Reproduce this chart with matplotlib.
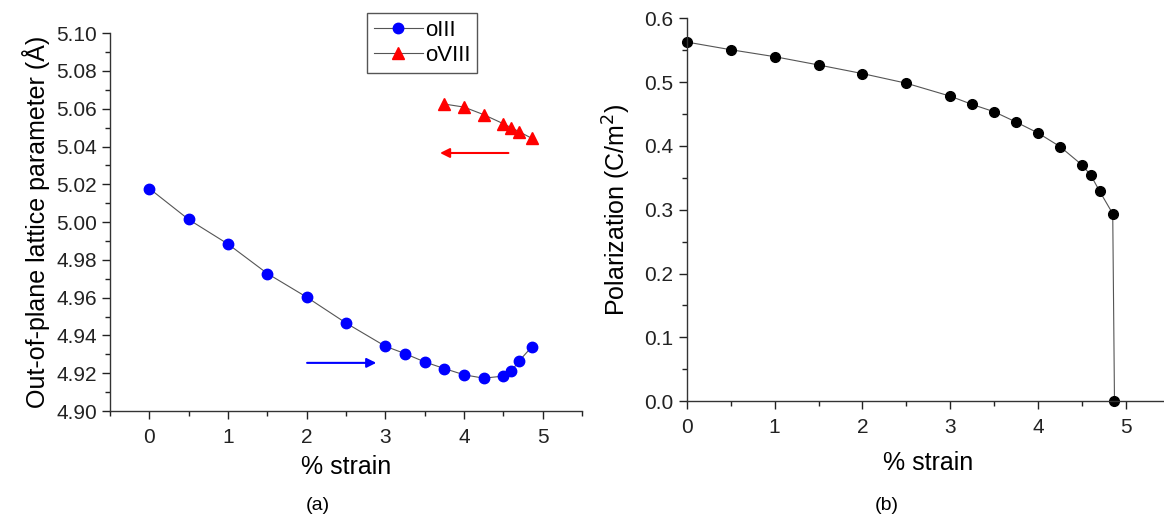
import matplotlib
matplotlib.use("Agg")
import matplotlib.pyplot as plt
from matplotlib.ticker import MultipleLocator

plt.rcParams["font.family"] = ["Liberation Sans", "DejaVu Sans"]

# (a) out-of-plane lattice parameter vs strain
strain_o3 = [0.0, 0.5, 1.0, 1.5, 2.0, 2.5, 3.0, 3.25, 3.5, 3.75, 4.0, 4.25, 4.5, 4.6, 4.7, 4.86]
lat_o3 = [5.0178, 5.0014, 4.9884, 4.9728, 4.9603, 4.9466, 4.9343, 4.9304, 4.9260,
          4.9225, 4.9192, 4.9174, 4.9185, 4.9211, 4.9265, 4.9339]
strain_o8 = [3.75, 4.0, 4.25, 4.5, 4.6, 4.7, 4.86]
lat_o8 = [5.0625, 5.0609, 5.0569, 5.0521, 5.0500, 5.0479, 5.0444]

# arrows: (x_start, x_end, y)
arrow_blue = (1.97, 2.92, 4.9255)
arrow_red = (4.60, 3.66, 5.0366)

# (b) polarization vs strain
strain_p = [0.0, 0.5, 1.0, 1.5, 2.0, 2.5, 3.0, 3.25, 3.5, 3.75, 4.0, 4.25, 4.5, 4.6, 4.7, 4.85, 4.87]
polar = [0.5626, 0.5506, 0.5397, 0.5267, 0.5132, 0.4981, 0.4778, 0.4648, 0.4534,
         0.4372, 0.4201, 0.3988, 0.3701, 0.3540, 0.3291, 0.2937, 0.0]

fig = plt.figure(figsize=(11.64, 5.19), dpi=100)
ax1 = fig.add_axes([0.0945, 0.208, 0.4055, 0.728])
ax2 = fig.add_axes([0.590, 0.227, 0.415, 0.738])

line_kw = dict(color="#555555", linewidth=0.8)

ax1.plot(strain_o3, lat_o3, marker="o", markersize=7.5, markerfacecolor="#0000ff",
         markeredgecolor="#0000ff", label="oIII", **line_kw)
ax1.plot(strain_o8, lat_o8, marker="^", markersize=8, markerfacecolor="#ff0000",
         markeredgecolor="#ff0000", label="oVIII", **line_kw)

ax1.annotate("", xy=(arrow_blue[1], arrow_blue[2]), xytext=(arrow_blue[0], arrow_blue[2]),
             arrowprops=dict(arrowstyle="-|>", color="#0000ff", lw=1.5, mutation_scale=14))
ax1.annotate("", xy=(arrow_red[1], arrow_red[2]), xytext=(arrow_red[0], arrow_red[2]),
             arrowprops=dict(arrowstyle="-|>", color="#ff0000", lw=1.5, mutation_scale=14))

ax1.set_xlim(-0.5, 5.5)
ax1.set_ylim(4.90, 5.10)
ax1.xaxis.set_major_locator(MultipleLocator(1))
ax1.xaxis.set_minor_locator(MultipleLocator(0.5))
ax1.yaxis.set_major_locator(MultipleLocator(0.02))
ax1.yaxis.set_minor_locator(MultipleLocator(0.01))
ax1.yaxis.set_major_formatter(plt.FormatStrFormatter("%.2f"))
ax1.set_xlabel("% strain", fontsize=18, labelpad=6)
ax1.set_ylabel("Out-of-plane lattice parameter (Å)", fontsize=18, labelpad=4)

leg = ax1.legend(loc="upper left", bbox_to_anchor=(367 / 1164, 1 - 13 / 519),
                 bbox_transform=fig.transFigure, fontsize=16, numpoints=1,
                 fancybox=False, framealpha=1, edgecolor="#555555", borderaxespad=0,
                 handlelength=2.2, borderpad=0.3, labelspacing=0.2, handletextpad=0.1)
leg.get_frame().set_linewidth(1.0)

ax2.plot(strain_p, polar, marker="o", markersize=7, markerfacecolor="black",
         markeredgecolor="black", clip_on=False, **line_kw)
ax2.set_xlim(0, 5.5)
ax2.set_ylim(0, 0.6)
ax2.xaxis.set_major_locator(MultipleLocator(1))
ax2.xaxis.set_minor_locator(MultipleLocator(0.5))
ax2.yaxis.set_major_locator(MultipleLocator(0.1))
ax2.yaxis.set_minor_locator(MultipleLocator(0.05))
ax2.yaxis.set_major_formatter(plt.FormatStrFormatter("%.1f"))
ax2.set_xlabel("% strain", fontsize=18, labelpad=10)
ax2.set_ylabel("Polarization (C/m$^2$)", fontsize=18, labelpad=8)

for ax in (ax1, ax2):
    ax.spines["top"].set_visible(False)
    ax.spines["right"].set_visible(False)
    for s in ("left", "bottom"):
        ax.spines[s].set_color("#333333")
        ax.spines[s].set_linewidth(1.0)
    ax.tick_params(which="major", direction="out", length=6, width=1, labelsize=15, colors="#222222")
    ax.tick_params(which="minor", direction="out", length=3.5, width=1, colors="#222222")
    ax.tick_params(axis="x", pad=6)

fig.text(318 / 1164, 1 - 505 / 519, "(a)", fontsize=14, ha="center", va="center")
fig.text(887 / 1164, 1 - 505 / 519, "(b)", fontsize=14, ha="center", va="center")

fig.savefig("out.png", dpi=100)
